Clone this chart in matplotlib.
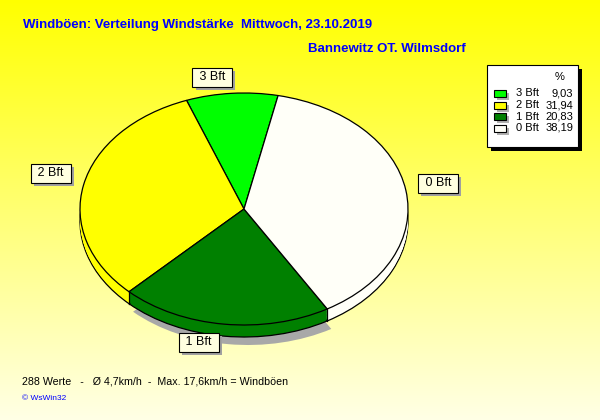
import numpy as np
import matplotlib
matplotlib.use('Agg')
import matplotlib.pyplot as plt
from matplotlib import patheffects as pe
from matplotlib.patches import Rectangle

# ---- data ----
labels = ['3 Bft', '2 Bft', '1 Bft', '0 Bft']
percent = [9.03, 31.94, 20.83, 38.19]
colors = ['#00ff00', '#ffff00', '#008000', '#fffff8']
title = 'Windböen: Verteilung Windstärke  Mittwoch, 23.10.2019'
subtitle = 'Bannewitz OT. Wilmsdorf'
footer = '288 Werte   -   Ø 4,7km/h  -  Max. 17,6km/h = Windböen'
credit = '© WsWin32'

plt.rcParams['font.family'] = ['Liberation Sans', 'DejaVu Sans']

W, H = 600, 420
fig = plt.figure(figsize=(6, 4.2), dpi=100)

# background gradient
bg = fig.add_axes([0, 0, 1, 1])
grad = np.linspace(0, 1, 256)
img = np.ones((256, 1, 3))
img[:, 0, 2] = grad * 0.9
bg.imshow(img, extent=[0, W, H, 0], aspect='auto', zorder=0, interpolation='bilinear')
bg.set_xlim(0, W)
bg.set_ylim(H, 0)
bg.axis('off')

# ---- pie (elliptical, with depth) ----
cx_px, cy_px = 244, 209
rx_px, ry_px = 164, 116
ax_l, ax_r, ax_t, ax_b = 76, 420, 89, 358
pax = fig.add_axes([ax_l / W, (H - ax_b) / H, (ax_r - ax_l) / W, (ax_b - ax_t) / H])
depth = 12 / ry_px
start = 78
shadow_colors = ['none', 'none', '#a8a8a8', 'none']

pax.pie(percent, colors=shadow_colors, startangle=start, counterclock=True,
        center=(4 / rx_px, -depth - 8 / ry_px), wedgeprops=dict(linewidth=0))
pax.pie(percent, colors=colors, startangle=start, counterclock=True,
        center=(0, -depth), wedgeprops=dict(linewidth=0.9, edgecolor='black'))
for k in np.linspace(-depth + 1.5 / ry_px, -0.5 / ry_px, 14):
    pax.pie(percent, colors=colors, startangle=start, counterclock=True,
            center=(0, k), wedgeprops=dict(linewidth=0))
pax.pie(percent, colors=colors, startangle=start, counterclock=True,
        center=(0, 0), wedgeprops=dict(linewidth=0.9, edgecolor='black'))

# side boundary lines
cum = start + 360 * np.cumsum(percent) / np.sum(percent)
for a in cum:
    r = np.deg2rad(a)
    if np.sin(r) < -0.05:
        pax.plot([np.cos(r), np.cos(r)], [np.sin(r), np.sin(r) - depth], color='black', lw=0.9)

pax.set_aspect('auto')
pax.set_xlim((ax_l - cx_px) / rx_px, (ax_r - cx_px) / rx_px)
pax.set_ylim((cy_px - ax_b) / ry_px, (cy_px - ax_t) / ry_px)
pax.axis('off')

# ---- slice labels ----
label_pos = {'3 Bft': (212, 77), '2 Bft': (51, 173), '0 Bft': (438, 183), '1 Bft': (199, 342)}
for lab in labels:
    x, y = label_pos[lab]
    t = fig.text(x, y, ' ' + lab + ' ', transform=bg.transData, ha='center', va='center',
                 fontsize=9, color='black',
                 bbox=dict(boxstyle='square,pad=0.28', fc='#ffffe0', ec='black', lw=0.8))
    t.get_bbox_patch().set_path_effects([
        pe.SimplePatchShadow(offset=(2.5, -2.5), shadow_rgbFace='#a0a0a0', alpha=1), pe.Normal()])

# ---- titles ----
bg.text(23, 25, title, fontsize=9.5, fontweight='bold', color='#0000ff', ha='left', va='center')
bg.text(466, 49, subtitle, fontsize=9.5, fontweight='bold', color='#0000ff', ha='right', va='center')

# ---- legend ----
lx, ly, lw_, lh = 487, 65, 91, 82
bg.add_patch(Rectangle((lx + 4, ly + 4), lw_, lh, fc='black', ec='none', zorder=2))
bg.add_patch(Rectangle((lx, ly), lw_, lh, fc='white', ec='black', lw=0.8, zorder=3))
bg.text(560, 77, '%', fontsize=8, ha='center', va='center', zorder=4)
for i, (lab, val, col) in enumerate(zip(labels, percent, colors)):
    y = 93.5 + i * 11.5
    bg.add_patch(Rectangle((494 + 3, y - 3.5 + 3), 12, 7, fc='#b0b0b0', ec='none', zorder=4))
    bg.add_patch(Rectangle((494, y - 3.5), 12, 7, fc=col, ec='black', lw=0.8, zorder=5))
    bg.text(516, y, lab, fontsize=8, ha='left', va='center', zorder=5)
    bg.text(573, y, f'{val:.2f}'.replace('.', ','), fontsize=8, ha='right', va='center', zorder=5)

# ---- footer ----
bg.text(22, 382, footer, fontsize=7.7, color='black', ha='left', va='center')
bg.text(22, 398, credit, fontsize=6, color='#0000ff', ha='left', va='center')

fig.savefig('out.png', dpi=100)
